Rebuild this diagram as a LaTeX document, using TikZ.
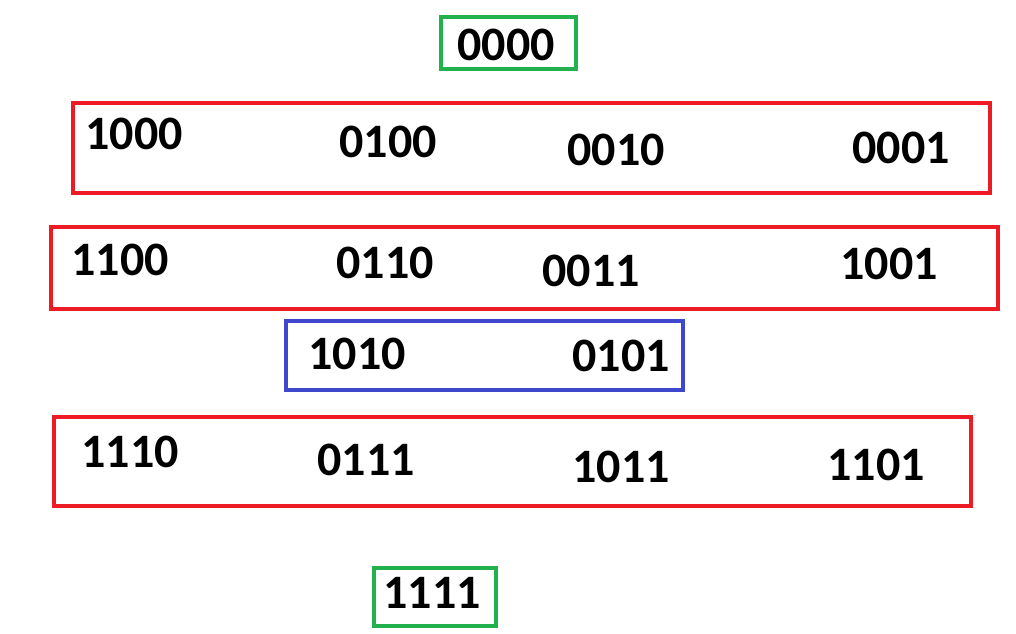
\documentclass[tikz,border=0pt]{standalone}
\usepackage{fontspec}
\setmainfont{Carlito}
\definecolor{boxred}{HTML}{ED1C24}
\definecolor{boxgreen}{HTML}{22B14C}
\definecolor{boxblue}{HTML}{3F48CC}
\begin{document}
\begin{tikzpicture}[x=.75pt,y=-.75pt,
		num/.style={font=\fontsize{36}{40}\selectfont\bfseries,inner sep=0pt},
		frame/.style={line width=3pt}]
				\useasboundingbox[fill=white] (0,0) rectangle (1016,634);
				% subsets of weight 0
				\draw[frame,boxgreen] (441,17) rectangle (576,69);
				\node[num] (w0) at (506,45) {0000};
				% weight 1
				\draw[frame,boxred] (73,103) rectangle (990,193);
				\node[num] (a1) at (134,134) {1000};
				\node[num] (a2) at (388,142) {0100};
				\node[num] (a3) at (616,150) {0010};
				\node[num] (a4) at (901,148) {0001};
				% weight 2
				\draw[frame,boxred] (51,227) rectangle (998,309);
				\node[num] (b1) at (120,260) {1100};
				\node[num] (b2) at (385,263) {0110};
				\node[num] (b3) at (591,271) {0011};
				\node[num] (b4) at (889,264) {1001};
				\draw[frame,boxblue] (286,321) rectangle (683,390);
				\node[num] (c1) at (357,354) {1010};
				\node[num] (c2) at (621,356) {0101};
				% weight 3
				\draw[frame,boxred] (54,417) rectangle (971,506);
				\node[num] (d1) at (130,452) {1110};
				\node[num] (d2) at (366,460) {0111};
				\node[num] (d3) at (621,467) {1011};
				\node[num] (d4) at (876,465) {1101};
				% weight 4
				\draw[frame,boxgreen] (374,568) rectangle (496,626);
				\node[num] (w4) at (432,593) {1111};
\end{tikzpicture}
\end{document}
